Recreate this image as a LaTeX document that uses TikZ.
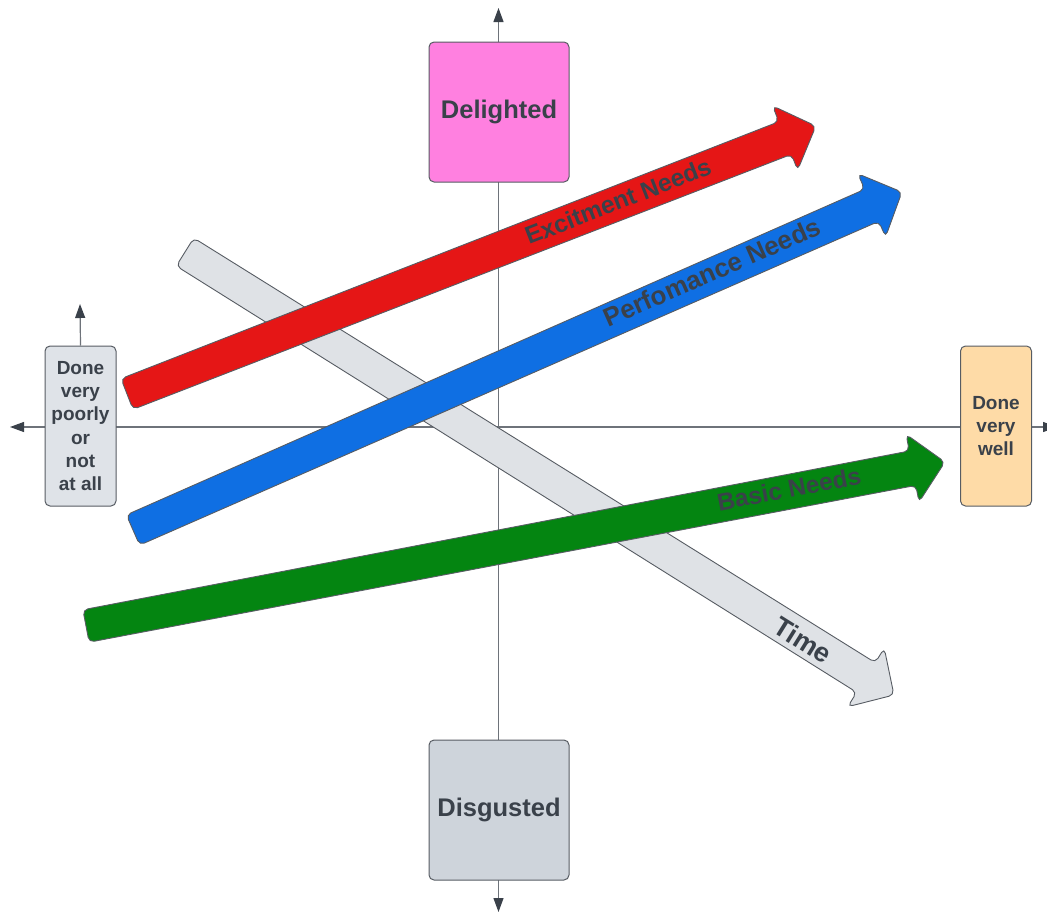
\documentclass[tikz,border=0pt]{standalone}
\usepackage{fontspec}
\setmainfont{Liberation Sans}
\usetikzlibrary{arrows.meta}

\definecolor{ink}{HTML}{3A414A}
\definecolor{edge}{HTML}{575C63}
\definecolor{axisgray}{HTML}{6E737A}
\definecolor{pinkfill}{HTML}{FF80E0}
\definecolor{slatefill}{HTML}{CED4DB}
\definecolor{paleslate}{HTML}{DFE3E8}
\definecolor{peach}{HTML}{FEDBA7}
\definecolor{exred}{HTML}{E51616}
\definecolor{perfblue}{HTML}{0F6FE3}
\definecolor{basicgreen}{HTML}{048511}
\definecolor{timegray}{HTML}{DFE2E6}

% Block arrow from a tail coordinate to a tip coordinate
\newcommand\blockarrow[3]{%
  \pgfpointdiff{\pgfpointanchor{#2}{center}}{\pgfpointanchor{#3}{center}}%
  \pgfgetlastxy{\bax}{\bay}%
  \pgfmathsetmacro\baAng{atan2(\bay,\bax)}%
  \pgfmathsetmacro\baLen{veclen(\bax,\bay)}%
  \pgfmathsetmacro\baNeck{\baLen-33}%
  \begin{scope}[shift={(#2)}, rotate=\baAng]
    \path[#1] (0,-16.5) -- (\baNeck,-17.5) -- (\baNeck,-34.5) -- (\baLen,0)
      -- (\baNeck,34.5) -- (\baNeck,17.5) -- (0,16.5) -- cycle;
  \end{scope}}

\tikzset{
  axisline/.style={draw=axisgray, line width=1.2pt,
    -{Triangle[length=14pt,width=10pt,fill=ink,color=ink]}},
  axisboth/.style={draw=axisgray, line width=1.2pt,
    {Triangle[length=14pt,width=10pt,fill=ink,color=ink]}-{Triangle[length=14pt,width=10pt,fill=ink,color=ink]}},
  box/.style={draw=edge, line width=1pt, rounded corners=5pt, text=ink,
    font=\bfseries, align=center, inner sep=0pt},
  bigbox/.style={box, minimum width=140pt, minimum height=140pt,
    font=\bfseries\fontsize{25.5}{30}\selectfont},
  tallbox/.style={box, minimum width=71pt, minimum height=160pt,
    font=\bfseries\fontsize{19}{23.3}\selectfont},
  blockbody/.style={draw=edge, line width=0.9pt, rounded corners=5pt, fill=#1},
  arrowtext/.style={text=ink, inner sep=0pt, font=\bfseries\fontsize{24.5}{29}\selectfont}
}

\begin{document}
\begin{tikzpicture}[x=1pt, y=-1pt]
\useasboundingbox (0,0) rectangle (1047,913);

% axes
\coordinate (vtop) at (498.5,8);
\coordinate (vbot) at (498.5,912);
\coordinate (hleft) at (10,427);
\coordinate (hright) at (1057,427);
\draw[axisboth] (vbot) -- (vtop);
\draw[axisboth] (hleft) -- (hright);

% boxes
\node[bigbox, fill=pinkfill] (del) at (499,112) {Delighted};
\node[bigbox, fill=slatefill] (dis) at (499,810) {Disgusted};
\node[tallbox, fill=paleslate] (poor) at (80.5,426) {Done\\very\\poorly\\or\\not\\at all};
\node[tallbox, fill=peach] (well) at (996,426) {Done\\very\\well};

% small upward arrow above the left box
\coordinate (uptip) at (80,304);
\draw[axisline] (poor.north) -- (uptip);

% end points of the block arrows
\coordinate (timeA) at (185,252);
\coordinate (timeB) at (894,695);
\coordinate (exA) at (127,394);
\coordinate (exB) at (816,126);
\coordinate (perfA) at (133,530);
\coordinate (perfB) at (902,192);
\coordinate (basA) at (86,626);
\coordinate (basB) at (945,462);

\blockarrow{blockbody=timegray}{timeA}{timeB}
\blockarrow{blockbody=exred}{exA}{exB}
\blockarrow{blockbody=perfblue}{perfA}{perfB}
\blockarrow{blockbody=basicgreen}{basA}{basB}

% arrow labels
\node[arrowtext, rotate=21.28] (exlab) at (618,201) {Excitment Needs};
\node[arrowtext, rotate=23.75, font=\bfseries\fontsize{26}{31}\selectfont] (perflab) at (712,272) {Perfomance Needs};
\node[arrowtext, rotate=10.82] (baslab) at (789,489) {Basic Needs};
\node[arrowtext, rotate=-31.97, font=\bfseries\fontsize{27}{32}\selectfont] (timelab) at (803,640) {Time};
\end{tikzpicture}
\end{document}
